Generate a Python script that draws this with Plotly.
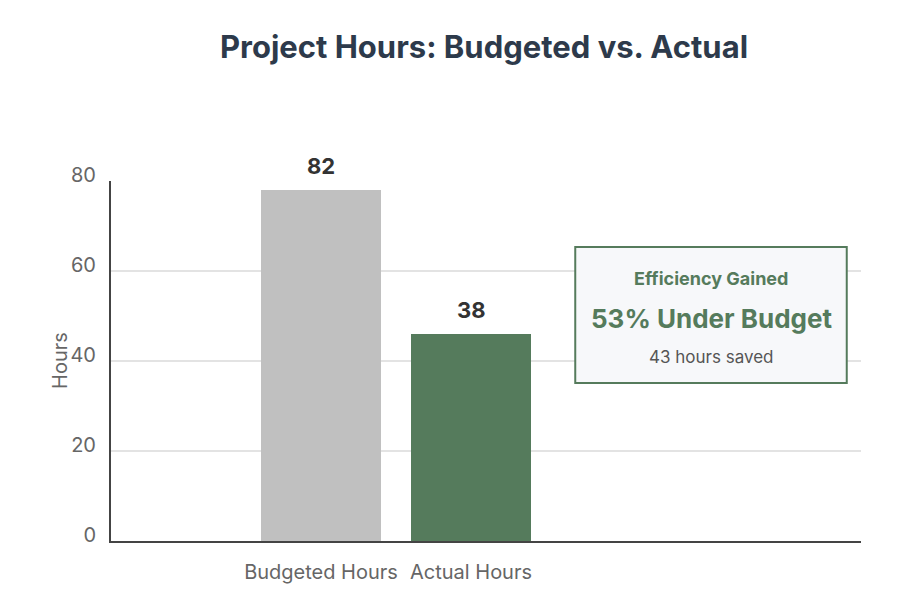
import plotly.graph_objects as go

categories = ["Budgeted Hours", "Actual Hours"]
bar_values = [78, 46]
bar_labels = ["82", "38"]
bar_colors = ["#c0c0c0", "#557b5c"]
y_ticks = [0, 20, 40, 60, 80]
box_lines = ["Efficiency Gained", "53% Under Budget", "43 hours saved"]
y_title = "Hours"

x_pos = list(range(len(categories)))

fig = go.Figure()
fig.add_trace(go.Bar(
    x=x_pos, y=bar_values, width=0.8,
    marker=dict(color=bar_colors, line=dict(width=0)),
    hoverinfo="skip", showlegend=False,
))

for xp, v, lab in zip(x_pos, bar_values, bar_labels):
    fig.add_annotation(x=xp, y=v, text=f"<b>{lab}</b>", showarrow=False,
                       yanchor="bottom", yshift=9, xanchor="center",
                       font=dict(family="Inter", size=22, color="#333333"))

# info box
fig.add_shape(type="rect", xref="paper", yref="paper",
              x0=0.619, x1=0.981, y0=0.439, y1=0.817,
              line=dict(color="#557b5c", width=2), fillcolor="#f7f8fa", layer="above")
fig.add_annotation(xref="paper", yref="paper", x=0.8, y=0.728, text=f"<b>{box_lines[0]}</b>",
                   showarrow=False, xanchor="center", yanchor="middle",
                   font=dict(family="Inter", size=18, color="#557b5c"))
fig.add_annotation(xref="paper", yref="paper", x=0.8, y=0.617, text=f"<b>{box_lines[1]}</b>",
                   showarrow=False, xanchor="center", yanchor="middle",
                   font=dict(family="Inter", size=26, color="#557b5c"))
fig.add_annotation(xref="paper", yref="paper", x=0.8, y=0.511, text=box_lines[2],
                   showarrow=False, xanchor="center", yanchor="middle",
                   font=dict(family="Inter", size=17, color="#555555"))

# y-axis title
fig.add_annotation(xref="paper", yref="paper", x=-0.068, y=0.503, text=y_title,
                   showarrow=False, textangle=-90, xanchor="center", yanchor="middle",
                   font=dict(family="Inter", size=20, color="#666666"))

fig.update_layout(
    width=904, height=608,
    margin=dict(l=103, r=51, t=173, b=75, autoexpand=False),
    paper_bgcolor="white", plot_bgcolor="white",
    title=dict(text="<b>Project Hours: Budgeted vs. Actual</b>", x=476 / 904, xref="container",
               xanchor="center", y=1 - 39 / 608, yref="container", yanchor="middle",
               font=dict(family="Inter", size=31, color="#2d3a4b")),
    xaxis=dict(range=[-1.4, 3.6], tickmode="array", tickvals=x_pos, ticktext=categories,
               showgrid=False, zeroline=False, showline=True, linecolor="#444444", linewidth=2,
               ticks="", ticklabelstandoff=12, automargin=False,
               tickfont=dict(family="Inter", size=20, color="#666666")),
    yaxis=dict(range=[0, 80], tickvals=y_ticks, showgrid=True, gridcolor="#e3e3e3", gridwidth=2,
               zeroline=False, showline=True, linecolor="#444444", linewidth=2,
               ticks="", ticklabelstandoff=9, ticklabelshift=-6, automargin=False,
               tickfont=dict(family="Inter", size=20, color="#666666")),
    font=dict(family="Inter"),
)

fig.write_html("out.html")
